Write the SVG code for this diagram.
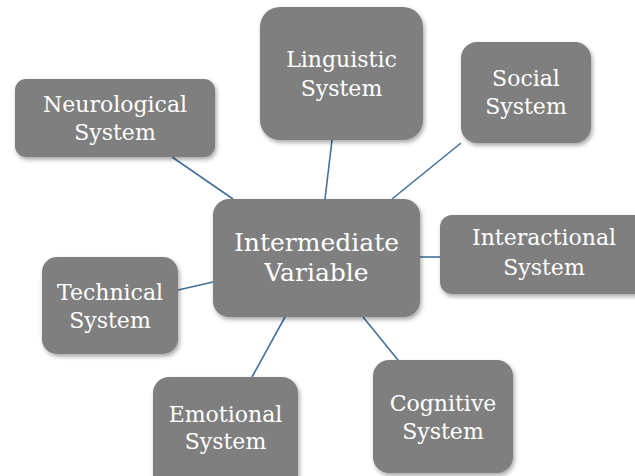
<svg xmlns="http://www.w3.org/2000/svg" width="635" height="476" viewBox="0 0 635 476">
<defs>
<filter id="sh" x="-10%" y="-10%" width="130%" height="130%">
<feDropShadow dx="1.5" dy="2.5" stdDeviation="2" flood-color="#000" flood-opacity="0.35"/>
</filter>
<style>
.box{fill:#7f7f7f;filter:url(#sh);}
.t{fill:#ffffff;font-family:"DejaVu Serif","Liberation Serif",serif;font-size:22px;text-anchor:middle;}
.tc{font-size:25px;}
.c{stroke:#41719c;stroke-width:1.6;fill:none;}
</style>
</defs>
<rect width="635" height="476" fill="#ffffff"/>
<g id="connectors">
<line class="c" x1="172" y1="157" x2="233" y2="199"/>
<line class="c" x1="332" y1="140" x2="325" y2="199"/>
<line class="c" x1="461" y1="143" x2="392" y2="199"/>
<line class="c" x1="420" y1="257" x2="440" y2="257"/>
<line class="c" x1="178" y1="290" x2="213" y2="282"/>
<line class="c" x1="285" y1="317" x2="252" y2="377"/>
<line class="c" x1="363" y1="317" x2="398" y2="360"/>
</g>
<g id="neurological">
<rect class="box" x="15" y="79" width="200" height="78" rx="11"/>
<text class="t" x="115" y="112">Neurological</text>
<text class="t" x="115" y="140">System</text>
</g>
<g id="linguistic">
<rect class="box" x="260" y="7" width="163" height="133" rx="20"/>
<text class="t" x="341.5" y="67">Linguistic</text>
<text class="t" x="341.5" y="96">System</text>
</g>
<g id="social">
<rect class="box" x="461" y="42" width="130" height="101" rx="16"/>
<text class="t" x="526" y="86">Social</text>
<text class="t" x="526" y="114">System</text>
</g>
<g id="interactional">
<rect class="box" x="440" y="215" width="215" height="79" rx="12"/>
<text class="t" x="544" y="245">Interactional</text>
<text class="t" x="544" y="275">System</text>
</g>
<g id="technical">
<rect class="box" x="42" y="257" width="136" height="97" rx="15"/>
<text class="t" x="110" y="300">Technical</text>
<text class="t" x="110" y="328">System</text>
</g>
<g id="emotional">
<rect class="box" x="153" y="377" width="145" height="115" rx="16"/>
<text class="t" x="225.5" y="422">Emotional</text>
<text class="t" x="225.5" y="449">System</text>
</g>
<g id="cognitive">
<rect class="box" x="373" y="360" width="140" height="113" rx="16"/>
<text class="t" x="443" y="411">Cognitive</text>
<text class="t" x="443" y="439">System</text>
</g>
<g id="center">
<rect class="box" x="213" y="199" width="207" height="118" rx="16"/>
<text class="t tc" x="316.5" y="251">Intermediate</text>
<text class="t tc" x="316.5" y="281">Variable</text>
</g>
</svg>
